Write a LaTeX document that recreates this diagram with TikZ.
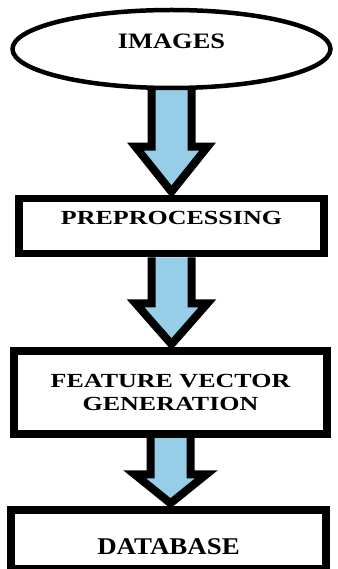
\documentclass[tikz,border=0pt]{standalone}
\usepackage{fontspec}
\setmainfont{Liberation Serif}
\usetikzlibrary{shapes.geometric,calc,backgrounds}
\definecolor{arrowblue}{RGB}{150,206,232}
\newcommand{\stagefont}[3]{\fontsize{#1}{#2}\selectfont\bfseries\addfontfeature{FakeStretch=#3}}
\newcommand{\fatarrow}[3]{%
  \draw[blockarrow] let \p1=(#1.south), \p2=(#2.north) in
    (\x1-20pt,\y1) -- (\x1-20pt,\y2+#3pt) -- (\x1-36pt,\y2+#3pt)
    -- (\x1,\y2+3pt) -- (\x1+36pt,\y2+#3pt) -- (\x1+20pt,\y2+#3pt) -- (\x1+20pt,\y1);
}
\tikzset{
  stage/.style={draw, rectangle, line width=7.5pt, inner sep=2pt},
  blockarrow/.style={draw, fill=arrowblue, line width=8pt, line join=miter},
}
\begin{document}
\begin{tikzpicture}[x=1pt, y=-1pt]
  \useasboundingbox (0,0) rectangle (337,569);
  \node[ellipse, draw, line width=4.5pt, minimum width=318pt, minimum height=78pt,
    inner sep=2pt, text depth=16pt, font=\stagefont{22}{26}{1.2}] (images) at (171.5,49) {IMAGES};
  \node[stage, minimum width=305pt, minimum height=55pt, text depth=16pt,
    font=\stagefont{20}{23}{1.3}] (prep) at (171.5,226) {PREPROCESSING};
  \node[stage, minimum width=313pt, minimum height=83pt, align=center,
    font=\stagefont{20}{23}{1.3}] (feature) at (170.5,392.5) {FEATURE VECTOR\\GENERATION};
  \node[stage, minimum width=315pt, minimum height=59pt, text height=31pt,
    font=\stagefont{24}{28}{1.12}] (database) at (168.5,539.5) {DATABASE};
  \begin{pgfonlayer}{background}
    \fatarrow{images}{prep}{48}
    \fatarrow{prep}{feature}{44}
    \fatarrow{feature}{database}{32}
  \end{pgfonlayer}
\end{tikzpicture}
\end{document}
